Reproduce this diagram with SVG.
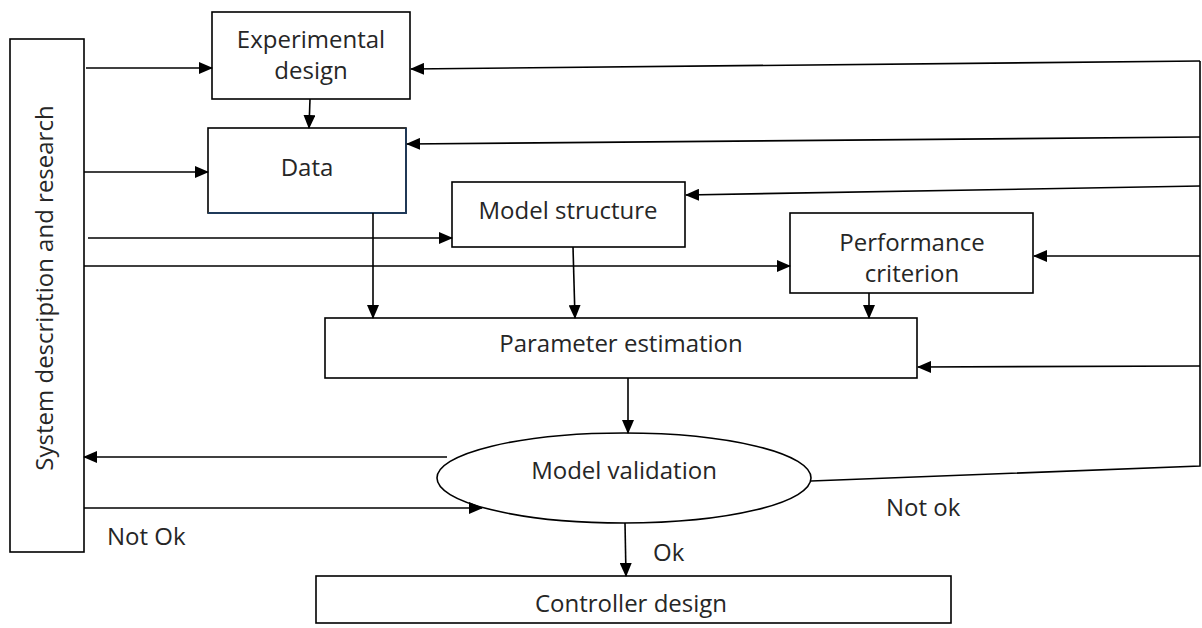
<svg xmlns="http://www.w3.org/2000/svg" width="1202" height="628" viewBox="0 0 1202 628">
<style>
.box{fill:#fff;stroke:#000;stroke-width:1.6}
.t{font-family:"Open Sans","Liberation Sans",sans-serif;font-size:24px;fill:#262626;text-anchor:middle}
.l{font-family:"Open Sans","Liberation Sans",sans-serif;font-size:24px;fill:#262626}
.c{fill:none;stroke:#000;stroke-width:1.6}
</style>
<defs>
<marker id="ah" markerUnits="userSpaceOnUse" markerWidth="14" markerHeight="12" refX="13" refY="6" orient="auto">
<path d="M0,0 L14,6 L0,12 Z" fill="#000"/>
</marker>
</defs>
<rect width="1202" height="628" fill="#fff"/>
<g id="system">
<rect class="box" x="10" y="39" width="74" height="513"/>
<text class="t" transform="translate(53,288) rotate(-90)">System description and research</text>
</g>
<g id="experimental">
<rect class="box" x="212" y="12" width="198" height="87"/>
<text class="t" x="311" y="48">Experimental</text>
<text class="t" x="311" y="79">design</text>
</g>
<g id="data">
<rect class="box" x="208" y="128" width="198" height="85"/>
<path d="M208,213 H406 V128" fill="none" stroke="#1f3a5a" stroke-width="1.8"/>
<text class="t" x="307" y="176">Data</text>
</g>
<g id="modelstructure">
<rect class="box" x="452" y="182" width="233" height="65"/>
<text class="t" x="568" y="219">Model structure</text>
</g>
<g id="performance">
<rect class="box" x="790" y="213" width="243" height="80"/>
<text class="t" x="912" y="251">Performance</text>
<text class="t" x="912" y="282">criterion</text>
</g>
<g id="parameter">
<rect class="box" x="325" y="318" width="592" height="60"/>
<text class="t" x="621" y="352">Parameter estimation</text>
</g>
<g id="validation">
<ellipse class="box" cx="624" cy="478" rx="187" ry="45"/>
<text class="t" x="624" y="479">Model validation</text>
</g>
<g id="controller">
<rect class="box" x="316" y="576" width="635" height="47"/>
<text class="t" x="631" y="612">Controller design</text>
</g>
<g id="connectors">
<path class="c" marker-end="url(#ah)" d="M86,68 H212"/>
<path class="c" marker-end="url(#ah)" d="M84,172 H208"/>
<path class="c" marker-end="url(#ah)" d="M88,238 H452"/>
<path class="c" marker-end="url(#ah)" d="M84,266 H790"/>
<path class="c" marker-end="url(#ah)" d="M447,457 H84"/>
<path class="c" marker-end="url(#ah)" d="M84,508 H482"/>
<path class="c" marker-end="url(#ah)" d="M310,99 L309,128"/>
<path class="c" marker-end="url(#ah)" d="M373,213 V318"/>
<path class="c" marker-end="url(#ah)" d="M573,247 L575,318"/>
<path class="c" marker-end="url(#ah)" d="M869,293 V318"/>
<path class="c" marker-end="url(#ah)" d="M628,378 V433"/>
<path class="c" marker-end="url(#ah)" d="M625,523 L626,576"/>
<path class="c" d="M811,481 L1200,466 V61"/>
<path class="c" marker-end="url(#ah)" d="M1200,61 L411,69"/>
<path class="c" marker-end="url(#ah)" d="M1200,137 L407,144"/>
<path class="c" marker-end="url(#ah)" d="M1200,186 L686,195"/>
<path class="c" marker-end="url(#ah)" d="M1200,256 L1034,256"/>
<path class="c" marker-end="url(#ah)" d="M1200,366 L918,367"/>
</g>
<g id="labels">
<text class="l" x="107" y="545">Not Ok</text>
<text class="l" x="886" y="516">Not ok</text>
<text class="l" x="653" y="561">Ok</text>
</g>
</svg>
